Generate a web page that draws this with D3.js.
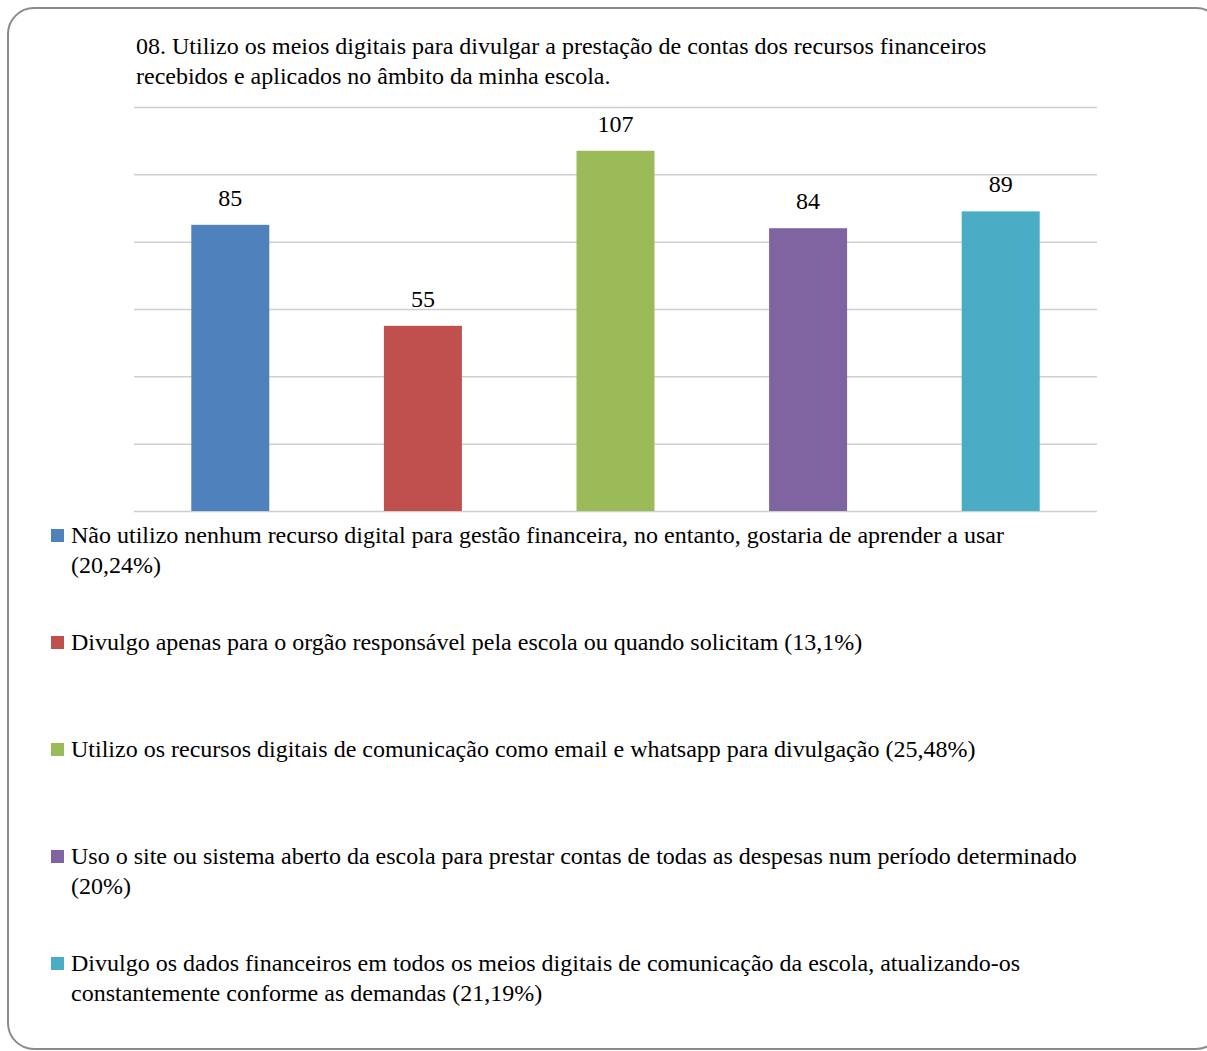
<!DOCTYPE html>
<html><head><meta charset="utf-8">
<script src="https://cdn.jsdelivr.net/npm/d3@7"></script>
</head>
<body style="margin:0;background:#fff">
<div id="wrap" style="position:relative;width:1207px;height:1051px;overflow:hidden"></div>
<script>
const categories = ["A","B","C","D","E"];
const values = [85, 55, 107, 84, 89];
const colors = ["#4F81BD","#C0504D","#9BBB59","#8064A2","#4BACC6"];
const yTicks = [0,20,40,60,80,100,120];
const titleLines = [
  "08. Utilizo os meios digitais para divulgar a prestação de contas dos recursos financeiros",
  "recebidos e aplicados no âmbito da minha escola."
];
const legendLabels = [
  ["Não utilizo nenhum recurso digital para gestão financeira, no entanto, gostaria de aprender a usar", "(20,24%)"],
  ["Divulgo apenas para o orgão responsável pela escola ou quando solicitam (13,1%)"],
  ["Utilizo os recursos digitais de comunicação como email e whatsapp para divulgação (25,48%)"],
  ["Uso o site ou sistema aberto da escola para prestar contas de todas as despesas num período determinado", "(20%)"],
  ["Divulgo os dados financeiros em todos os meios digitais de comunicação da escola, atualizando-os", "constantemente conforme as demandas (21,19%)"]
];

const W = 1207, H = 1051;
const wrap = d3.select("#wrap");
const svg = wrap.append("svg").attr("width", W).attr("height", H)
  .style("position", "absolute").style("left", "0px").style("top", "0px");

svg.append("rect").attr("x", 8).attr("y", 8).attr("width", 1214).attr("height", 1041)
  .attr("rx", 26).attr("ry", 26).attr("fill", "#fff").attr("stroke", "#8a8a8a").attr("stroke-width", 2);

const x = d3.scaleBand().domain(categories).range([134, 1097]).paddingInner(0.595).paddingOuter(0.2975);
const y = d3.scaleLinear().domain([0, 120]).range([511, 107]);

const grid = svg.append("g").attr("transform", "translate(134,0)")
  .call(d3.axisLeft(y).tickValues(yTicks).tickSize(-(1097-134)).tickFormat(""));
grid.select(".domain").remove();
grid.selectAll(".tick line").attr("stroke", "#cfcfcf").attr("stroke-width", 1.5);
grid.selectAll(".tick text").remove();

svg.selectAll("rect.bar").data(values).join("rect").attr("class","bar")
  .attr("x", (d,i) => x(categories[i])).attr("width", x.bandwidth())
  .attr("y", d => y(d)).attr("height", d => y(0) - y(d))
  .attr("fill", (d,i) => colors[i]);

svg.selectAll("text.val").data(values).join("text").attr("class","val")
  .attr("x", (d,i) => x(categories[i]) + x.bandwidth()/2)
  .attr("y", d => y(d) - 19).attr("text-anchor", "middle").attr("font-size", 24)
  .style("font-family", '"Liberation Serif"')
  .text(d => d);

// HTML text layers (baseline-aligned via line box: top = baseline - ~21.5 for 24px Liberation Serif in 27.6px line)
function addLine(txt, left, baseline){
  wrap.append("div")
    .style("position", "absolute").style("left", left + "px").style("top", (baseline - 22) + "px")
    .style("font-family", '"Liberation Serif"').style("font-size", "24px")
    .style("line-height", "27px").style("white-space", "nowrap").style("color", "#000")
    .text(txt);
}
titleLines.forEach((t, i) => addLine(t, 136, 55 + i*30));
legendLabels.forEach((lines, i) => {
  const base = 544 + i*107;
  svg.append("rect").attr("x", 51).attr("y", base - 15).attr("width", 13).attr("height", 13)
    .attr("fill", colors[i]);
  lines.forEach((t, j) => addLine(t, 71, base + j*30));
});
</script>
</body></html>
